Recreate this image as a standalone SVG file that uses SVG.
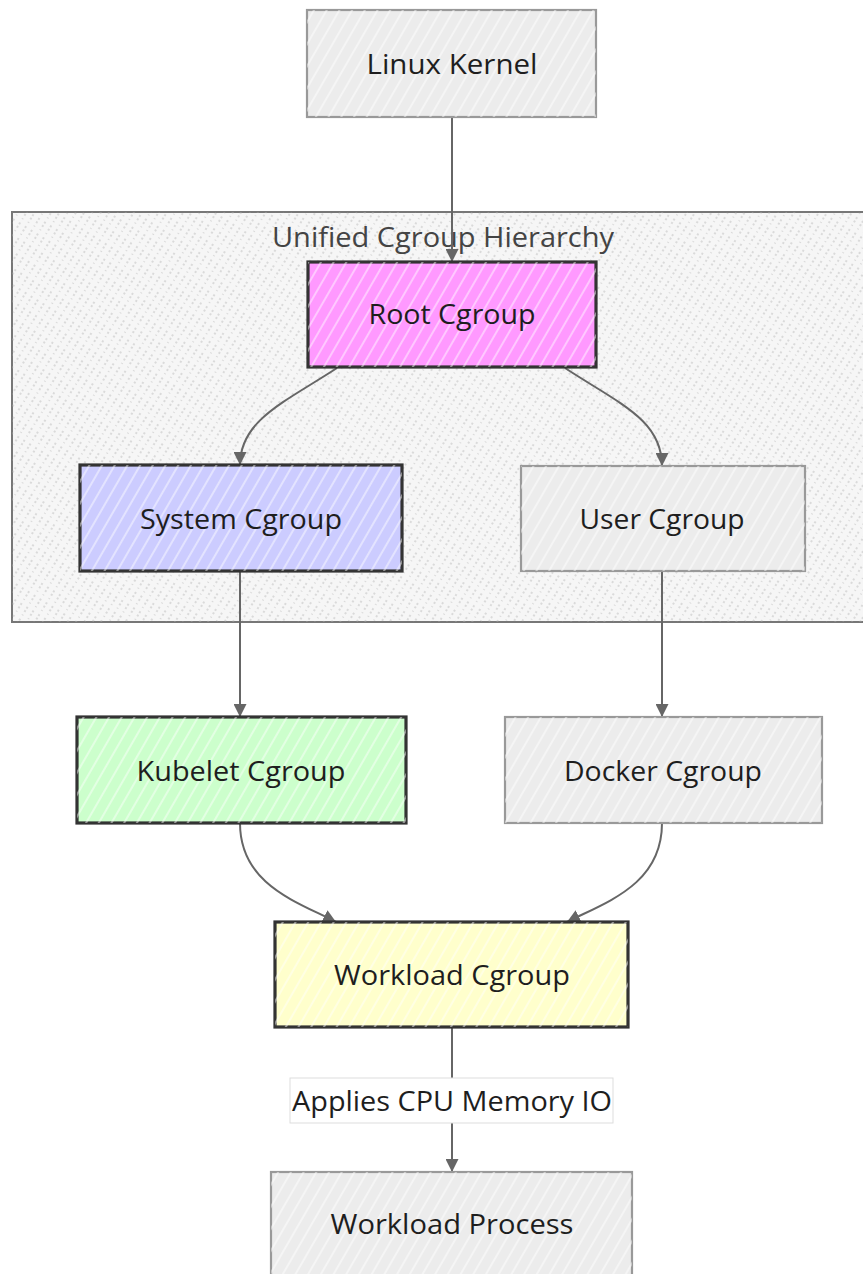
<svg xmlns="http://www.w3.org/2000/svg" width="863" height="1274" viewBox="0 0 863 1274">
<style>
.lbl{font-family:"Open Sans","Noto Sans","Liberation Sans",sans-serif;font-size:27px;fill:#1e1e1e;text-anchor:middle;dominant-baseline:central}
.dark{stroke:#333;stroke-width:3.2}
.gray{stroke:#999;stroke-width:2.2}
.hatch{stroke:none}
.edge{fill:none;stroke:#666;stroke-width:2}
</style>
<defs>
<pattern id="wh" patternUnits="userSpaceOnUse" width="11" height="10" patternTransform="rotate(30)">
<line x1="2" y1="0" x2="2" y2="10" stroke="#ffffff" stroke-opacity="0.7" stroke-width="1.3"/>
</pattern>
<pattern id="bg" patternUnits="userSpaceOnUse" width="7" height="14" patternTransform="rotate(32)">
<line x1="2" y1="0" x2="2" y2="14" stroke="#b0b0b0" stroke-width="0.8" stroke-dasharray="2 3 1 4"/>
</pattern>
<marker id="arr" viewBox="0 0 10 10" refX="10" refY="5" markerWidth="13" markerHeight="13" markerUnits="userSpaceOnUse" orient="auto">
<path d="M0,0 L10,5 L0,10 z" fill="#666"/>
</marker>
</defs>

<g id="cluster-unified">
<rect x="12" y="212" width="860" height="410" fill="#f6f6f6" stroke="#777" stroke-width="2"/>
<rect x="12" y="212" width="860" height="410" fill="url(#bg)" stroke="none"/>
<text class="lbl" x="443" y="236" textLength="342" lengthAdjust="spacingAndGlyphs" style="fill:#444">Unified Cgroup Hierarchy</text>
</g>

<g id="edges">
<path class="edge" d="M452,117 L452,262" marker-end="url(#arr)"/>
<path class="edge" d="M337,368 C285,402 240,420 240,465" marker-end="url(#arr)"/>
<path class="edge" d="M565,368 C620,404 662,420 662,466" marker-end="url(#arr)"/>
<path class="edge" d="M240,571 L240,717" marker-end="url(#arr)"/>
<path class="edge" d="M662,571 L662,717" marker-end="url(#arr)"/>
<path class="edge" d="M240,823 C240,885 298,902 336,922" marker-end="url(#arr)"/>
<path class="edge" d="M662,823 C662,885 606,902 567,922" marker-end="url(#arr)"/>
<path class="edge" d="M452,1027 L452,1172" marker-end="url(#arr)"/>
<g id="edge-label">
<rect x="290" y="1078" width="323" height="45" fill="#ffffff" stroke="#dddddd" stroke-width="1"/>
<text class="lbl" x="452" y="1100" textLength="320" lengthAdjust="spacingAndGlyphs">Applies CPU Memory IO</text>
</g>
</g>

<g id="linux-kernel">
<rect x="307" y="10" width="289" height="107" fill="#ececec" class="gray"/>
<rect x="307" y="10" width="289" height="107" fill="url(#wh)" class="hatch"/>
<text class="lbl" x="452" y="63" textLength="171" lengthAdjust="spacingAndGlyphs">Linux Kernel</text>
</g>

<g id="root-cgroup">
<rect x="308" y="262" width="288" height="105" fill="#ff99ff" class="dark"/>
<rect x="308" y="262" width="288" height="105" fill="url(#wh)" class="hatch"/>
<text class="lbl" x="452" y="313" textLength="167" lengthAdjust="spacingAndGlyphs">Root Cgroup</text>
</g>

<g id="system-cgroup">
<rect x="80" y="465" width="322" height="106" fill="#ccccff" class="dark"/>
<rect x="80" y="465" width="322" height="106" fill="url(#wh)" class="hatch"/>
<text class="lbl" x="241" y="518" textLength="202" lengthAdjust="spacingAndGlyphs">System Cgroup</text>
</g>

<g id="user-cgroup">
<rect x="521" y="466" width="284" height="105" fill="#ececec" class="gray"/>
<rect x="521" y="466" width="284" height="105" fill="url(#wh)" class="hatch"/>
<text class="lbl" x="662" y="518" textLength="165" lengthAdjust="spacingAndGlyphs">User Cgroup</text>
</g>

<g id="kubelet-cgroup">
<rect x="77" y="717" width="329" height="106" fill="#ccffcc" class="dark"/>
<rect x="77" y="717" width="329" height="106" fill="url(#wh)" class="hatch"/>
<text class="lbl" x="241" y="770" textLength="209" lengthAdjust="spacingAndGlyphs">Kubelet Cgroup</text>
</g>

<g id="docker-cgroup">
<rect x="505" y="717" width="317" height="106" fill="#ececec" class="gray"/>
<rect x="505" y="717" width="317" height="106" fill="url(#wh)" class="hatch"/>
<text class="lbl" x="663" y="770" textLength="198" lengthAdjust="spacingAndGlyphs">Docker Cgroup</text>
</g>

<g id="workload-cgroup">
<rect x="275" y="922" width="353" height="105" fill="#ffffcc" class="dark"/>
<rect x="275" y="922" width="353" height="105" fill="url(#wh)" class="hatch"/>
<text class="lbl" x="452" y="974" textLength="236" lengthAdjust="spacingAndGlyphs">Workload Cgroup</text>
</g>

<g id="workload-process">
<rect x="271" y="1172" width="361" height="110" fill="#ececec" class="gray"/>
<rect x="271" y="1172" width="361" height="110" fill="url(#wh)" class="hatch"/>
<text class="lbl" x="452" y="1223" textLength="243" lengthAdjust="spacingAndGlyphs">Workload Process</text>
</g>
</svg>
